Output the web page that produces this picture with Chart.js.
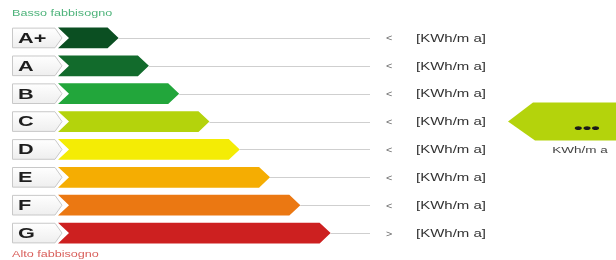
<!DOCTYPE html>
<html>
<head>
<meta charset="utf-8">
<script src="https://cdn.jsdelivr.net/npm/chart.js@4"></script>
<style>
  html, body { margin: 0; padding: 0; background: #fff; }
  #wrap { width: 616px; height: 260px; position: relative; }
</style>
</head>
<body>
<div id="wrap"><canvas id="chart"></canvas></div>
<script>
const classes = ['A+', 'A', 'B', 'C', 'D', 'E', 'F', 'G'];
const barLengths = [2, 3, 4, 5, 6, 7, 8, 9];
const classColors = ['#0b4f22', '#126b2c', '#22a63b', '#b4d30c', '#f4ec05', '#f5ad02', '#eb7812', '#cd2020'];
const comparators = ['<', '<', '<', '<', '<', '<', '<', '>'];
const unitLabel = '[KWh/m a]';
const currentClass = 'C';
const currentValue = '•••';
const currentUnit = 'KWh/m a';

// the original artwork has horizontally stretched lettering
function wideText(ctx, text, x, y, font, color, sx, align) {
    ctx.save();
    ctx.font = font;
    ctx.fillStyle = color;
    ctx.textBaseline = 'middle';
    ctx.textAlign = 'left';
    const w = ctx.measureText(text).width * sx;
    let left = x;
    if (align === 'center') left = x - w / 2;
    ctx.translate(left, y);
    ctx.scale(sx, 1);
    ctx.fillText(text, 0, 0);
    ctx.restore();
}

const energyPlugin = {
    id: 'energyLabel',
    afterDatasetsDraw(chart) {
        const ctx = chart.ctx;
        const area = chart.chartArea;
        const meta = chart.getDatasetMeta(0);
        ctx.save();

        meta.data.forEach((bar, i) => {
            const h = bar.height;
            const top = bar.y - h / 2;
            const bot = bar.y + h / 2;
            const head = 11;

            // guide line to the threshold column
            ctx.strokeStyle = '#cfcfcf';
            ctx.lineWidth = 1;
            ctx.beginPath();
            ctx.moveTo(bar.x, Math.round(bar.y) + 0.5);
            ctx.lineTo(area.right, Math.round(bar.y) + 0.5);
            ctx.stroke();

            // arrow bar with notched tail
            ctx.fillStyle = classColors[i];
            ctx.beginPath();
            ctx.moveTo(bar.base, top);
            ctx.lineTo(bar.x - head, top);
            ctx.lineTo(bar.x, bar.y);
            ctx.lineTo(bar.x - head, bot);
            ctx.lineTo(bar.base, bot);
            ctx.lineTo(bar.base + 11, bar.y);
            ctx.closePath();
            ctx.fill();

            // class label box
            const bx = 12, br = bar.base - 3;
            const grad = ctx.createLinearGradient(0, top, 0, bot);
            grad.addColorStop(0, '#ffffff');
            grad.addColorStop(1, '#eeeeee');
            ctx.fillStyle = grad;
            ctx.strokeStyle = '#c8c8c8';
            ctx.beginPath();
            ctx.moveTo(bx + 0.5, top + 0.5);
            ctx.lineTo(br, top + 0.5);
            ctx.lineTo(br + 7, bar.y);
            ctx.lineTo(br, bot - 0.5);
            ctx.lineTo(bx + 0.5, bot - 0.5);
            ctx.closePath();
            ctx.fill();
            ctx.stroke();

            wideText(ctx, classes[i], 18, bar.y + 1, 'bold 14px "Liberation Sans", Arial, sans-serif', '#1e1e1e', 1.55);

            // threshold column
            wideText(ctx, comparators[i], area.right + 16, bar.y + 1, '9px "Liberation Sans", Arial, sans-serif', '#666', 1.2);
            wideText(ctx, unitLabel, area.right + 46, bar.y + 1, '10px "Liberation Sans", Arial, sans-serif', '#333', 1.5);
        });

        // current class pointer
        const ci = classes.indexOf(currentClass);
        const cb = meta.data[ci];
        const pt = cb.y - 19, pb = cb.y + 19;
        ctx.fillStyle = classColors[ci];
        ctx.beginPath();
        ctx.moveTo(508, cb.y);
        ctx.lineTo(533, pt);
        ctx.lineTo(chart.width + 2, pt);
        ctx.lineTo(chart.width + 2, pb);
        ctx.lineTo(535, pb);
        ctx.closePath();
        ctx.fill();
        wideText(ctx, currentValue, 587, cb.y + 7, 'bold 13px "Liberation Sans", Arial, sans-serif', '#1a1a1a', 1.9, 'center');
        wideText(ctx, currentUnit, 580, cb.y + 29, '9px "Liberation Sans", Arial, sans-serif', '#444', 1.5, 'center');

        // scale captions
        wideText(ctx, 'Basso fabbisogno', 12, 14, '9px "Liberation Sans", Arial, sans-serif', '#4db37a', 1.4);
        wideText(ctx, 'Alto fabbisogno', 12, 255, '9px "Liberation Sans", Arial, sans-serif', '#d9605c', 1.4);

        ctx.restore();
    }
};

new Chart(document.getElementById('chart'), {
    type: 'bar',
    data: {
        labels: classes,
        datasets: [{
            data: barLengths,
            backgroundColor: 'rgba(0,0,0,0)',
            borderWidth: 0,
            categoryPercentage: 1,
            barPercentage: 0.74
        }]
    },
    options: {
        indexAxis: 'y',
        responsive: true,
        maintainAspectRatio: false,
        animation: false,
        layout: { padding: { left: 58, right: 246, top: 24, bottom: 13 } },
        scales: {
            x: { display: false, min: 0, max: 10.3 },
            y: { display: false }
        },
        plugins: {
            legend: { display: false },
            tooltip: { enabled: false }
        }
    },
    plugins: [energyPlugin]
});
</script>
</body>
</html>
